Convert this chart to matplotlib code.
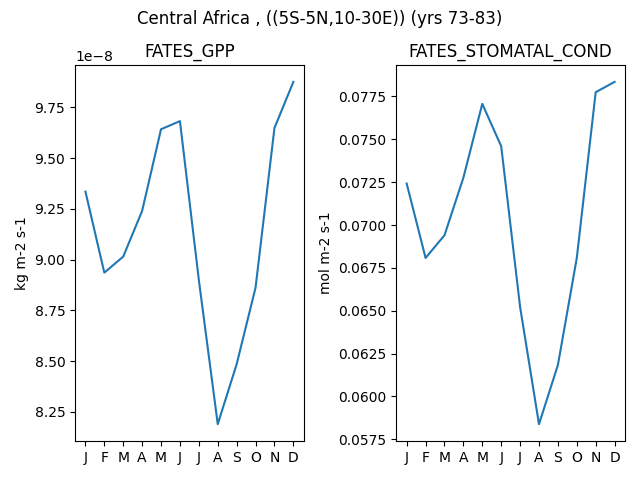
import matplotlib
matplotlib.use("Agg")
import matplotlib.pyplot as plt

months = ["J", "F", "M", "A", "M", "J", "J", "A", "S", "O", "N", "D"]
gpp = [9.335e-8, 8.936e-8, 9.015e-8, 9.240e-8, 9.642e-8, 9.682e-8,
       8.90e-8, 8.190e-8, 8.485e-8, 8.862e-8, 9.648e-8, 9.875e-8]
stomatal = [0.07242, 0.06808, 0.06940, 0.07276, 0.07707, 0.07460,
            0.06522, 0.05838, 0.06183, 0.06808, 0.07775, 0.07835]

fig, axes = plt.subplots(1, 2, figsize=(6.4, 4.8), dpi=100)
x = range(12)
axes[0].plot(x, gpp)
axes[0].set_title("FATES_GPP")
axes[0].set_ylabel("kg m-2 s-1")
axes[1].plot(x, stomatal)
axes[1].set_title("FATES_STOMATAL_COND")
axes[1].set_ylabel("mol m-2 s-1")
for ax in axes:
    ax.set_xticks(list(x))
    ax.set_xticklabels(months)
fig.suptitle("Central Africa , ((5S-5N,10-30E)) (yrs 73-83)")
fig.tight_layout()
fig.subplots_adjust(top=0.865)
fig.savefig("out.png")
